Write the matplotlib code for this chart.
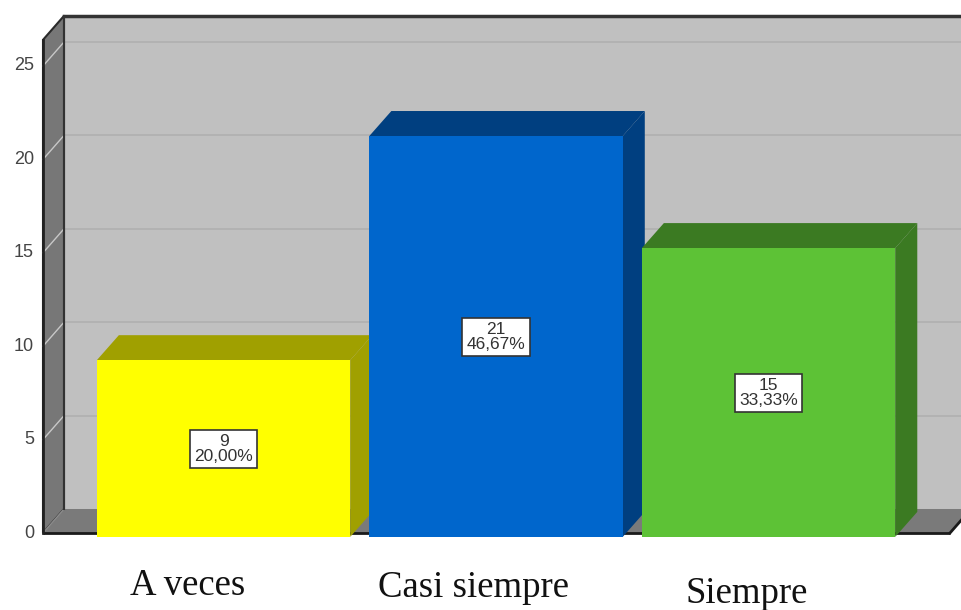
import numpy as np
import matplotlib.pyplot as plt
from matplotlib.patches import Polygon, Rectangle

categorias = ["A veces", "Casi siempre", "Siempre"]
frecuencias = [9, 21, 15]
porcentajes = [20.00, 46.67, 33.33]
y_ticks = [0, 5, 10, 15, 20, 25]

color_frente = ["#ffff00", "#0066cc", "#5dc236"]
color_lado = ["#a0a000", "#003f80", "#3b7a22"]

fig = plt.figure(figsize=(9.62, 6.10), dpi=100)
ax = fig.add_axes([0, 0, 1, 1])
ax.set_xlim(-0.8202, 2.7101)
ax.set_ylim(-4.122, 28.533)
ax.axis("off")

# profundidad del "3D"
dx, dy = 0.0771, 1.285
bdx, bdy = 0.081, 1.34
ymax = 26.4
x0 = -0.6624   # borde frontal de la pared izquierda
x1 = 2.666     # borde frontal derecho del piso
xr = 2.80
ancho = 0.93
lift = 0.25
base = -0.21

# pared del fondo
ax.add_patch(Polygon([(x0 + dx, dy), (xr, dy), (xr, ymax + dy), (x0 + dx, ymax + dy)],
                     closed=True, fc="#c0c0c0", ec="none", zorder=1))
for t in y_ticks[1:]:
    ax.plot([x0 + dx, xr], [t + dy, t + dy], color="#b0b0b0", lw=1.2, zorder=2)

# pared izquierda
ax.add_patch(Polygon([(x0, 0), (x0, ymax), (x0 + dx, ymax + dy), (x0 + dx, dy)],
                     closed=True, fc="#777777", ec="#2a2a2a", lw=1.5, zorder=3))
for t in y_ticks[1:]:
    ax.plot([x0, x0 + dx], [t, t + dy], color="#c8c8c8", lw=1, zorder=4)

# piso
ax.add_patch(Polygon([(x0, 0), (x1, 0), (x1 + dx, dy), (x0 + dx, dy)],
                     closed=True, fc="#7a7a7a", ec="none", zorder=3))
ax.plot([x0, x0 + dx], [0, dy], color="#8c8c8c", lw=1, zorder=4)
ax.plot([x0, x1], [0, 0], color="#1a1a1a", lw=2, zorder=4, solid_capstyle="butt")
ax.plot([x1, x1 + dx], [0, dy], color="#1a1a1a", lw=2, zorder=4)
ax.plot([x0 + dx, x0 + dx], [dy, ymax + dy], color="#333333", lw=1.5, zorder=4)
ax.plot([x0 + dx, xr], [ymax + dy, ymax + dy], color="#333333", lw=2.5, zorder=4)
ax.plot([x0, x0], [0, ymax], color="#222222", lw=2, zorder=4)

# barras
for i, v in enumerate(frecuencias):
    xl = i - ancho / 2
    xd = i + ancho / 2
    top = v + lift
    ax.add_patch(Polygon([(xl, top), (xd, top), (xd + bdx, top + bdy), (xl + bdx, top + bdy)],
                         closed=True, fc=color_lado[i], ec="none", zorder=5 + i))
    ax.add_patch(Polygon([(xd, base), (xd + bdx, base + bdy), (xd + bdx, top + bdy), (xd, top)],
                         closed=True, fc=color_lado[i], ec="none", zorder=5 + i))
    ax.add_patch(Rectangle((xl, base), ancho, top - base, fc=color_frente[i], ec="none",
                           zorder=5 + i))
    etiqueta = f"{v}\n{porcentajes[i]:.2f}%".replace(".", ",")
    ax.text(i, v / 2, etiqueta, ha="center", va="center", fontsize=12.5,
            family="Liberation Sans", linespacing=1.0, color="#333333", zorder=20,
            bbox=dict(boxstyle="square,pad=0.25", fc="white", ec="#333333", lw=1.2))

# etiquetas del eje y
for t in y_ticks:
    ax.text(-0.6954, t, str(t), ha="right", va="center", fontsize=13,
            family="Liberation Sans", color="#444444")

# etiquetas de categorias
offs_x = [-0.132, -0.084, -0.079]
base_y = [-3.32, -3.43, -3.75]
for i, c in enumerate(categorias):
    ax.text(i + offs_x[i], base_y[i], c, ha="center", va="baseline", fontsize=26.5,
            family="Liberation Serif", color="#111111")

fig.savefig("out.png", dpi=100)
